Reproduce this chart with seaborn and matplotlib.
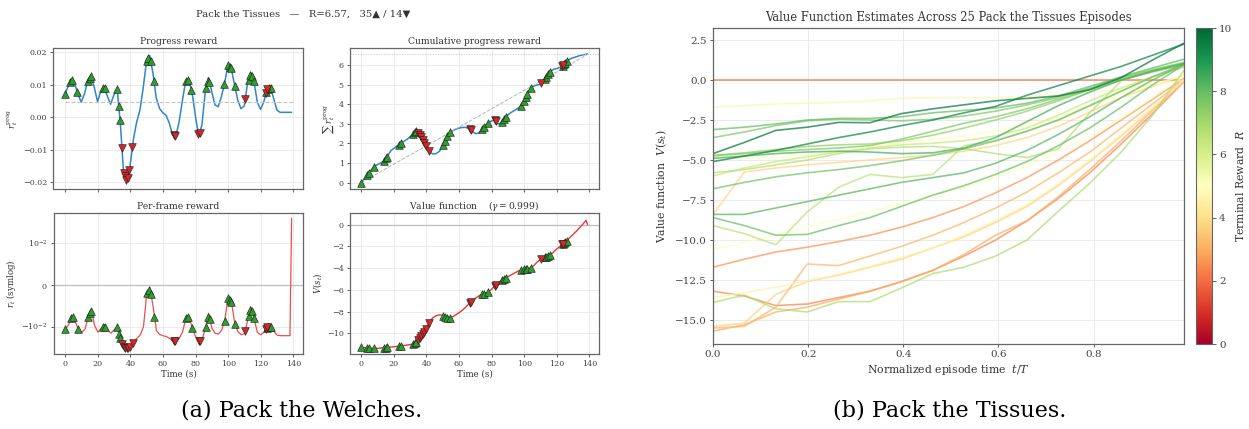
import numpy as np
import pandas as pd
import matplotlib
matplotlib.use("Agg")
import matplotlib.pyplot as plt
import seaborn as sns
from matplotlib.colors import Normalize
from matplotlib.cm import ScalarMappable

# ---------------------------------------------------------------- data (a)
# sample times of the single episode (seconds)
time_s = np.append(np.arange(0, 139, 2), 139.0)

progress_reward = [
    0.0071, 0.0095, 0.0116, 0.0103, 0.0071, 0.0046, 0.0072, 0.0112, 0.0128, 0.0092,
    0.0048, 0.0080, 0.0095, 0.0065, 0.0040, 0.0068, 0.0088, -0.0020, -0.0172, -0.0198,
    -0.0148, -0.0068, -0.0015, 0.0022, 0.0090, 0.0170, 0.0190, 0.0135, 0.0060, 0.0027,
    0.0014, 0.0006, -0.0018, -0.0055, -0.0058, -0.0015, 0.0050, 0.0110, 0.0115, 0.0075,
    0.0005, -0.0057, -0.0025, 0.0075, 0.0122, 0.0080, 0.0038, 0.0032, 0.0064, 0.0107,
    0.0161, 0.0150, 0.0100, 0.0052, 0.0026, 0.0035, 0.0105, 0.0137, 0.0108, 0.0046,
    0.0024, 0.0048, 0.0086, 0.0092, 0.0058, 0.0022, 0.0015, 0.0015, 0.0015, 0.0015,
    0.0015,
]

cumulative_progress = [
    0.00, 0.22, 0.43, 0.64, 0.83, 0.92, 1.00, 1.10, 1.33, 1.62,
    1.75, 1.88, 1.98, 2.10, 2.20, 2.35, 2.50, 2.64, 2.45, 2.10,
    1.78, 1.55, 1.46, 1.48, 1.60, 1.88, 2.28, 2.53, 2.64, 2.72,
    2.78, 2.81, 2.82, 2.75, 2.63, 2.50, 2.52, 2.68, 2.90, 3.05,
    3.15, 3.18, 3.00, 3.02, 3.28, 3.45, 3.58, 3.68, 3.78, 3.90,
    4.13, 4.54, 4.82, 4.93, 4.98, 5.02, 5.20, 5.45, 5.68, 5.78,
    5.82, 5.88, 6.00, 6.17, 6.30, 6.37, 6.42, 6.48, 6.52, 6.55,
    6.57,
]

frame_reward = [
    -0.0119, -0.0095, -0.0074, -0.0087, -0.0119, -0.0144, -0.0118, -0.0078, -0.0062, -0.0098,
    -0.0142, -0.0110, -0.0095, -0.0125, -0.0150, -0.0122, -0.0102, -0.0210, -0.0362, -0.0388,
    -0.0338, -0.0258, -0.0205, -0.0168, -0.0100, -0.0020, -0.0006, -0.0055, -0.0130, -0.0163,
    -0.0176, -0.0184, -0.0208, -0.0245, -0.0248, -0.0205, -0.0140, -0.0080, -0.0075, -0.0115,
    -0.0185, -0.0247, -0.0215, -0.0115, -0.0068, -0.0110, -0.0152, -0.0158, -0.0126, -0.0083,
    -0.0029, -0.0040, -0.0090, -0.0138, -0.0164, -0.0155, -0.0085, -0.0053, -0.0082, -0.0144,
    -0.0166, -0.0142, -0.0104, -0.0098, -0.0132, -0.0168, -0.0175, -0.0175, -0.0175, -0.0175,
    0.0470,
]

value_estimate = [
    -11.29, -11.32, -11.34, -11.36, -11.38, -11.38, -11.35, -11.32, -11.30, -11.27,
    -11.23, -11.20, -11.17, -11.12, -11.08, -11.03, -10.95, -10.78, -10.40, -9.95,
    -9.45, -8.90, -8.55, -8.38, -8.30, -8.35, -8.55, -8.60, -8.48, -8.30,
    -8.10, -7.88, -7.60, -7.30, -7.02, -6.78, -6.57, -6.42, -6.30, -6.20,
    -5.95, -5.62, -5.35, -5.12, -4.95, -4.78, -4.62, -4.46, -4.30, -4.16,
    -4.10, -4.05, -3.98, -3.75, -3.45, -3.20, -3.05, -2.95, -2.82, -2.52,
    -2.25, -2.00, -1.75, -1.52, -1.20, -0.92, -0.62, -0.30, 0.02, 0.40,
    0.00,
]

# times of positive / negative progress events
up_times = [0.0, 3.4, 4.4, 7.6, 14.0, 15.2, 15.8, 23.2, 24.4, 31.8, 33.0, 33.8,
            50.2, 51.2, 52.6, 54.6, 74.4, 75.4, 77.6, 86.6, 87.6, 88.6,
            97.8, 100.2, 101.2, 102.0, 104.2, 112.6, 113.6, 114.6, 115.8,
            123.6, 124.6, 125.4, 126.2]
down_times = [35.0, 36.0, 36.8, 37.6, 38.4, 39.4, 41.4, 66.6, 67.4,
              81.8, 82.6, 110.6, 123.4, 124.0]

episode_return = 6.57
progress_mean = 0.0047
episode_end = 139.6

# ---------------------------------------------------------------- data (b)
norm_time = [0.0, 0.066, 0.132, 0.198, 0.264, 0.33, 0.396, 0.462,
             0.528, 0.594, 0.66, 0.726, 0.792, 0.858, 0.924, 0.99]

terminal_rewards = [5.3, 8.0, 7.6, 9.7, 9.4, 7.3, 8.4, 5.0, 6.3, 7.8,
                    3.8, 6.6, 8.2, 7.9, 5.0, 2.6, 4.6, 3.2, 2.4, 6.8,
                    3.0, 3.7, 2.0, 7.6, 6.7]

episode_values = [
    [-1.7, -1.6, -1.5, -1.45, -1.4, -1.3, -1.15, -1.1, -1.1, -1.1, -1.05, -0.95, -0.8, -0.6, -0.3, 0.0],
    [-3.1, -2.95, -2.75, -2.5, -2.4, -2.4, -2.3, -2.05, -1.9, -1.75, -1.45, -1.0, -0.4, 0.2, 0.75, 1.3],
    [-3.6, -3.25, -2.85, -2.55, -2.45, -2.5, -2.55, -2.45, -2.25, -1.95, -1.55, -1.1, -0.5, 0.15, 0.65, 1.1],
    [-4.6, -3.9, -3.15, -2.95, -2.65, -2.67, -2.1, -1.8, -1.55, -1.3, -1.15, -1.0, -0.6, 0.15, 1.25, 2.3],
    [-5.1, -4.75, -4.4, -4.0, -3.6, -3.25, -2.85, -2.5, -2.05, -1.65, -0.95, -0.35, 0.25, 0.85, 1.55, 2.25],
    [-4.7, -4.55, -4.35, -4.15, -4.05, -4.0, -3.8, -3.45, -3.0, -2.5, -1.95, -1.3, -0.6, 0.1, 0.6, 1.0],
    [-4.9, -4.75, -4.6, -4.5, -4.45, -4.5, -4.6, -4.55, -4.25, -3.6, -2.6, -1.6, -0.75, 0.0, 0.55, 1.05],
    [-4.8, -4.9, -4.85, -4.7, -4.5, -4.2, -3.9, -3.7, -3.5, -3.2, -2.8, -2.3, -1.6, -0.9, -0.3, 0.3],
    [-6.0, -5.5, -5.1, -4.8, -4.5, -4.25, -4.05, -3.95, -3.8, -3.5, -3.0, -2.2, -1.3, -0.5, 0.2, 0.8],
    [-6.8, -6.4, -6.05, -5.8, -5.6, -5.35, -5.05, -4.7, -4.3, -3.8, -3.2, -2.5, -1.6, -0.7, 0.2, 1.0],
    [-8.4, -5.75, -5.5, -5.3, -5.15, -5.0, -4.85, -4.7, -4.45, -4.1, -3.6, -2.9, -2.0, -1.1, -0.4, 0.3],
    [-9.1, -9.6, -10.3, -8.25, -6.7, -5.9, -6.1, -5.9, -4.1, -3.8, -3.2, -2.5, -1.6, -0.7, 0.2, 0.85],
    [-8.4, -8.4, -8.0, -7.6, -7.2, -6.8, -6.4, -6.1, -5.8, -5.2, -4.4, -3.4, -2.3, -1.1, 0.0, 1.0],
    [-8.6, -9.1, -9.7, -9.65, -9.1, -8.6, -7.9, -7.2, -6.6, -5.9, -5.1, -4.1, -3.0, -1.7, -0.3, 0.95],
    [-10.6, -10.15, -9.7, -9.2, -8.7, -8.2, -7.7, -7.2, -6.7, -6.1, -5.4, -4.5, -3.5, -2.4, -1.1, 0.25],
    [-11.7, -11.2, -10.75, -10.45, -10.1, -9.7, -9.2, -8.6, -7.9, -7.05, -6.1, -5.0, -3.8, -2.5, -1.2, 0.1],
    [-13.6, -13.3, -12.95, -12.55, -12.15, -11.65, -11.1, -10.5, -9.7, -8.8, -7.8, -6.5, -5.0, -3.4, -1.7, 0.0],
    [-15.5, -15.4, -14.2, -11.5, -11.6, -11.0, -10.4, -9.7, -8.9, -8.0, -7.0, -5.8, -4.5, -3.0, -1.5, 0.0],
    [-13.2, -13.5, -14.1, -14.0, -13.6, -13.2, -12.6, -11.9, -11.0, -10.0, -8.8, -7.4, -5.8, -4.0, -2.1, -0.1],
    [-13.9, -13.45, -14.3, -14.5, -13.85, -13.85, -13.0, -12.1, -11.7, -11.0, -10.0, -8.2, -6.45, -4.5, -2.2, 0.6],
    [-15.7, -15.3, -14.5, -14.2, -13.7, -13.2, -12.6, -11.9, -10.9, -9.7, -8.8, -7.3, -5.6, -3.8, -1.9, -0.1],
    [-15.4, -15.2, -13.4, -12.6, -12.2, -11.7, -11.2, -10.5, -9.8, -8.9, -7.9, -6.6, -5.1, -3.5, -1.8, -0.1],
    [0.0, 0.0, 0.0, 0.0, 0.0, 0.0, 0.0, 0.0, 0.0, 0.0, 0.0, 0.0, 0.0, 0.0, 0.0, 0.0],
    [-4.75, -4.6, -4.45, -4.35, -4.25, -4.1, -3.7, -3.2, -2.7, -2.3, -1.8, -1.2, -0.6, 0.0, 0.5, 0.95],
    [-5.8, -5.6, -5.3, -5.0, -4.6, -4.3, -4.2, -4.15, -4.3, -4.6, -4.85, -4.3, -2.05, -0.05, 0.6, 0.95],
]

# ---------------------------------------------------------------- style
sns.set_theme(style="whitegrid")
plt.rcParams["font.family"] = ["DejaVu Serif", "DejaVu Sans"]
plt.rcParams.update({
    "mathtext.fontset": "dejavuserif",
    "axes.edgecolor": "#666666",
    "axes.linewidth": 0.9,
    "grid.color": "#ebebeb",
    "grid.linewidth": 0.7,
    "xtick.bottom": True,
    "ytick.left": True,
    "xtick.major.size": 2.5,
    "ytick.major.size": 2.5,
    "xtick.major.width": 0.6,
    "ytick.major.width": 0.6,
    "xtick.color": "#444444",
    "ytick.color": "#444444",
    "xtick.major.pad": 2,
    "ytick.major.pad": 2,
    "text.color": "#333333",
    "axes.labelcolor": "#333333",
})

W, H = 1249, 429
fig = plt.figure(figsize=(W / 100, H / 100), dpi=100)


def box(x0, y0, x1, y1):
    return [x0 / W, 1 - y1 / H, (x1 - x0) / W, (y1 - y0) / H]


ax_prog = fig.add_axes(box(53.5, 48, 303, 189))
ax_cum = fig.add_axes(box(350, 48, 599, 189))
ax_frame = fig.add_axes(box(54, 213, 303, 354))
ax_val = fig.add_axes(box(350, 213, 599, 354))
ax_v = fig.add_axes(box(713, 28, 1184, 344))
cax = fig.add_axes(box(1196, 28, 1212, 344))

SMALL_TITLE, SMALL_TICK, SMALL_LABEL = 6.6, 5.8, 6.2
up_times = np.asarray(up_times)
down_times = np.asarray(down_times)


def draw_events(ax, series):
    sns.scatterplot(x=up_times, y=np.interp(up_times, time_s, series), marker="^",
                    s=30, color="#2ca02c", edgecolor="#222222", linewidth=0.45,
                    zorder=4, ax=ax, legend=False)
    sns.scatterplot(x=down_times, y=np.interp(down_times, time_s, series), marker="v",
                    s=30, color="#d62728", edgecolor="#222222", linewidth=0.45,
                    zorder=4, ax=ax, legend=False)


def style_small(ax, title, ylabel, show_x):
    ax.set_title(title, fontsize=SMALL_TITLE, pad=3)
    ax.set_ylabel(ylabel, fontsize=SMALL_LABEL, labelpad=2)
    ax.set_xlim(-7, 146)
    ax.set_xticks([0, 20, 40, 60, 80, 100, 120, 140])
    ax.tick_params(labelsize=SMALL_TICK)
    if show_x:
        ax.set_xlabel("Time (s)", fontsize=SMALL_LABEL, labelpad=1)
    else:
        ax.set_xticklabels([])
        ax.set_xlabel("")


# progress reward
sns.lineplot(x=time_s, y=progress_reward, color="#2f86c8", lw=1.1, ax=ax_prog,
             estimator=None, sort=False)
ax_prog.hlines(progress_mean, 0, episode_end, colors="#c4c4c4", linestyles="--", lw=0.8)
draw_events(ax_prog, progress_reward)
ax_prog.set_ylim(-0.0221, 0.0213)
ax_prog.set_yticks([-0.02, -0.01, 0.0, 0.01, 0.02])
style_small(ax_prog, "Progress reward", r"$r_t^{\mathrm{prog}}$", False)

# cumulative progress
sns.lineplot(x=time_s, y=cumulative_progress, color="#2f86c8", lw=1.1, ax=ax_cum,
             estimator=None, sort=False)
ax_cum.plot([0, episode_end], [0, episode_return], color="#b5b5b5", ls="--", lw=0.7)
ax_cum.axhline(episode_return, color="#c4c4c4", ls=":", lw=0.7)
draw_events(ax_cum, cumulative_progress)
ax_cum.set_ylim(-0.33, 6.87)
ax_cum.set_yticks([0, 1, 2, 3, 4, 5, 6])
style_small(ax_cum, "Cumulative progress reward", r"$\sum\, r_t^{\mathrm{prog}}$", False)

# per-frame reward (symlog)
ax_frame.set_yscale("symlog", linthresh=0.01)
sns.lineplot(x=time_s, y=frame_reward, color="#e8504f", lw=0.9, ax=ax_frame,
             estimator=None, sort=False)
ax_frame.axhline(0, color="#bdbdbd", lw=0.9, zorder=1)
draw_events(ax_frame, frame_reward)
ax_frame.set_ylim(-0.054, 0.065)
ax_frame.set_yticks([-0.01, 0, 0.01])
ax_frame.yaxis.set_minor_locator(matplotlib.ticker.NullLocator())
style_small(ax_frame, "Per-frame reward", r"$r_t$ (symlog)", True)

# value function
sns.lineplot(x=time_s, y=value_estimate, color="#e03a3a", lw=1.0, ax=ax_val,
             estimator=None, sort=False)
ax_val.axhline(0, color="#bdbdbd", lw=0.9, zorder=1)
draw_events(ax_val, value_estimate)
ax_val.set_ylim(-11.9, 1.07)
ax_val.set_yticks([-10, -8, -6, -4, -2, 0])
style_small(ax_val, r"Value function    ($\gamma = 0.999$)", r"$V(s_t)$", True)

fig.text(303 / W, 1 - 14 / H, "Pack the Tissues   \u2014   R=6.57,   35\u25B2 / 14\u25BC",
         ha="center", va="center", fontsize=7.2, color="#333333")

# ---------------------------------------------------------------- panel (b)
rows = []
for ep, (r, vals) in enumerate(zip(terminal_rewards, episode_values)):
    for t, v in zip(norm_time, vals):
        rows.append({"episode": ep, "t": t, "V": v, "R": r})
df = pd.DataFrame(rows)

sns.lineplot(data=df, x="t", y="V", hue="R", units="episode", estimator=None,
             palette="RdYlGn", hue_norm=(0, 10), lw=1.2, alpha=0.72,
             legend=False, sort=False, ax=ax_v)
ax_v.set_xlim(0, 0.99)
ax_v.set_ylim(-16.5, 3.25)
ax_v.set_yticks([-15, -12.5, -10, -7.5, -5, -2.5, 0, 2.5])
ax_v.set_xticks([0, 0.2, 0.4, 0.6, 0.8])
ax_v.tick_params(labelsize=7.5)
ax_v.set_title("Value Function Estimates Across 25 Pack the Tissues Episodes",
               fontsize=8.3, pad=5)
ax_v.set_xlabel(r"Normalized episode time  $t/T$", fontsize=7.8, labelpad=3)
ax_v.set_ylabel(r"Value function  $V(s_t)$", fontsize=7.8, labelpad=4)

sm = ScalarMappable(norm=Normalize(0, 10), cmap="RdYlGn")
cbar = fig.colorbar(sm, cax=cax)
cbar.set_ticks([0, 2, 4, 6, 8, 10])
cbar.ax.tick_params(labelsize=7.5, right=True, length=3, pad=2)
cbar.outline.set_edgecolor("#666666")
cbar.outline.set_linewidth(0.8)
cbar.set_label(r"Terminal Reward  $R$", fontsize=7.8, labelpad=1)

# ---------------------------------------------------------------- captions
fig.text(302 / W, 1 - 411 / H, "(a) Pack the Welches.", ha="center", va="center",
         fontsize=16, color="black")
fig.text(950 / W, 1 - 411 / H, "(b) Pack the Tissues.", ha="center", va="center",
         fontsize=16, color="black")

fig.savefig("out.png", dpi=100)
